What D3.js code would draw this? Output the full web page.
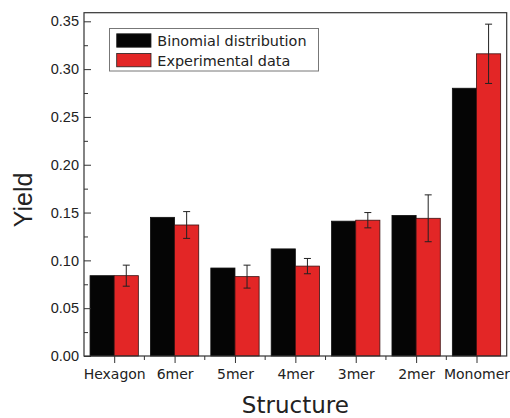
<!DOCTYPE html>
<html>
<head>
<meta charset="utf-8">
<script src="https://cdn.jsdelivr.net/npm/d3@7"></script>
<style>
  body { margin: 0; background: #fff; }
  svg { display: block; }
</style>
</head>
<body>
<div id="chart"></div>
<script>
"use strict";

const structures = ["Hexagon", "6mer", "5mer", "4mer", "3mer", "2mer", "Monomer"];
const binomial = [0.084, 0.145, 0.092, 0.112, 0.141, 0.147, 0.280];
const experimental = [0.084, 0.137, 0.083, 0.094, 0.142, 0.144, 0.316];
const experimentalErr = [0.011, 0.014, 0.012, 0.008, 0.008, 0.0245, 0.031];
const yTicks = [0, 0.05, 0.10, 0.15, 0.20, 0.25, 0.30, 0.35];
const seriesNames = ["Binomial distribution", "Experimental data"];

const svgWidth = 510;
const svgHeight = 418;
const margin = { top: 12.7, right: 3.3, bottom: 62, left: 84 };
const width = svgWidth - margin.left - margin.right;
const height = svgHeight - margin.top - margin.bottom;
const black = "#050505";
const red = "#e32626";
const axisColor = "#333";

const svg = d3.select("#chart")
  .append("svg")
  .attr("width", svgWidth)
  .attr("height", svgHeight)
;

const g = svg.append("g")
  .attr("transform", `translate(${margin.left}, ${margin.top})`)
;

const xScale = d3.scalePoint()
  .domain(structures)
  .range([0, width])
  .padding(0.5)
;
const step = xScale.step();
const barWidth = step * 0.4;

// frame top sits ~8.6px above the 0.35 tick
const yTop = 0.35 * height / (height - 8.6);
const yScale = d3.scaleLinear()
  .domain([0, yTop])
  .range([height, 0])
;

// bars
structures.forEach((s, i) => {
  const cx = xScale(s);
  g.append("rect")
    .attr("x", cx - barWidth)
    .attr("y", yScale(binomial[i]))
    .attr("width", barWidth)
    .attr("height", height - yScale(binomial[i]))
    .attr("fill", black)
    .attr("stroke", "#111")
    .attr("stroke-width", 0.8);
  g.append("rect")
    .attr("x", cx)
    .attr("y", yScale(experimental[i]))
    .attr("width", barWidth)
    .attr("height", height - yScale(experimental[i]))
    .attr("fill", red)
    .attr("stroke", "#3a1010")
    .attr("stroke-width", 0.8);

  // error bar
  const ex = cx + barWidth / 2;
  const top = yScale(experimental[i] + experimentalErr[i]);
  const bot = yScale(experimental[i] - experimentalErr[i]);
  g.append("line")
    .attr("x1", ex).attr("x2", ex)
    .attr("y1", top).attr("y2", bot)
    .attr("stroke", "#222").attr("stroke-width", 1);
  [top, bot].forEach(yy => {
    g.append("line")
      .attr("x1", ex - 3.5).attr("x2", ex + 3.5)
      .attr("y1", yy).attr("y2", yy)
      .attr("stroke", "#222").attr("stroke-width", 1);
  });
});

// frame
g.append("rect")
  .attr("x", 0).attr("y", 0)
  .attr("width", width).attr("height", height)
  .attr("fill", "none")
  .attr("stroke", axisColor)
  .attr("stroke-width", 1.2)
;

// y axis
const yAxis = d3.axisLeft(yScale)
  .tickValues(yTicks)
  .tickSizeInner(-7)
  .tickSizeOuter(0)
  .tickPadding(5)
  .tickFormat(d3.format(".2f"))
;
const yAxisG = g.append("g").call(yAxis);
yAxisG.select(".domain").remove();
yAxisG.selectAll("line").attr("stroke", axisColor);
yAxisG.selectAll("text")
  .attr("font-family", "'Liberation Sans', Arial, sans-serif")
  .attr("font-size", 14.5)
  .attr("fill", "#222");

const yMinor = d3.axisLeft(yScale)
  .tickValues(yTicks.slice(0, -1).map(t => t + 0.025))
  .tickSizeInner(-4)
  .tickSizeOuter(0)
  .tickFormat("")
;
const yMinorG = g.append("g").call(yMinor);
yMinorG.select(".domain").remove();
yMinorG.selectAll("line").attr("stroke", axisColor);

// x axis
const xAxis = d3.axisBottom(xScale)
  .tickSizeInner(7)
  .tickSizeOuter(0)
  .tickPadding(6)
;
const xAxisG = g.append("g")
  .attr("transform", `translate(0, ${height})`)
  .call(xAxis);
xAxisG.select(".domain").remove();
xAxisG.selectAll("line").attr("stroke", axisColor);
xAxisG.selectAll("text")
  .attr("font-family", "'DejaVu Sans', Verdana, sans-serif")
  .attr("font-size", 14)
  .attr("fill", "#222");

// minor x ticks between categories
const xMinorPos = structures.slice(0, -1).map(s => xScale(s) + step / 2);
g.append("g")
  .selectAll("line")
  .data(xMinorPos)
  .enter()
  .append("line")
  .attr("x1", d => d).attr("x2", d => d)
  .attr("y1", height).attr("y2", height + 4)
  .attr("stroke", axisColor);

// axis titles
svg.append("text")
  .attr("x", margin.left + width / 2)
  .attr("y", 413)
  .attr("text-anchor", "middle")
  .attr("font-family", "'DejaVu Sans', Verdana, sans-serif")
  .attr("font-size", 23)
  .attr("fill", "#222")
  .text("Structure");

svg.append("text")
  .attr("transform", "translate(31.5, 200) rotate(-90)")
  .attr("text-anchor", "middle")
  .attr("font-family", "'Liberation Sans', Arial, sans-serif")
  .attr("font-size", 25)
  .attr("fill", "#222")
  .text("Yield");

// legend
const legend = svg.append("g");
legend.append("rect")
  .attr("x", 109.5).attr("y", 28.5)
  .attr("width", 209).attr("height", 42.5)
  .attr("fill", "#fff")
  .attr("stroke", "#777")
  .attr("stroke-width", 1);

[black, red].forEach((c, i) => {
  legend.append("rect")
    .attr("x", 116.7).attr("y", 33.8 + i * 19.6)
    .attr("width", 34.3).attr("height", 13.4)
    .attr("fill", c)
    .attr("stroke", "#222")
    .attr("stroke-width", 0.8);
  legend.append("text")
    .attr("x", 157.3).attr("y", 46.3 + i * 19.2)
    .attr("font-family", "'DejaVu Sans', Verdana, sans-serif")
    .attr("font-size", 14.4)
    .attr("fill", "#222")
    .text(seriesNames[i]);
});
</script>
</body>
</html>
